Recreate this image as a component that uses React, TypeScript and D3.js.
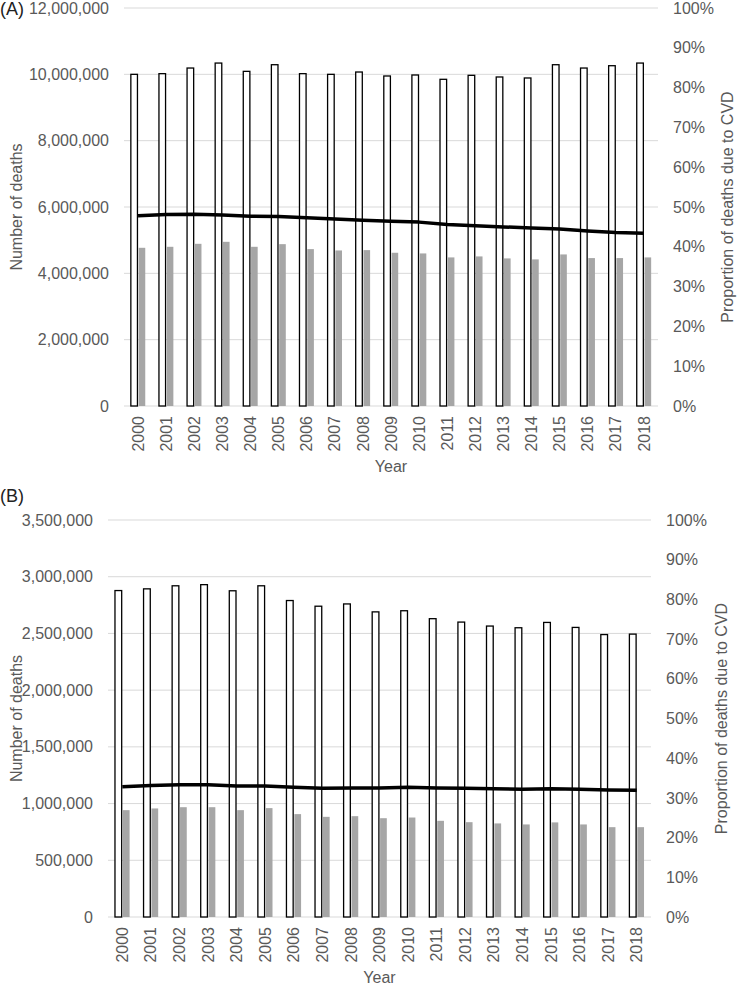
import React from 'react';
import * as d3 from 'd3';

// categories
const years = ['2000', '2001', '2002', '2003', '2004', '2005', '2006', '2007', '2008', '2009',
  '2010', '2011', '2012', '2013', '2014', '2015', '2016', '2017', '2018'];

// (A) all deaths, CVD deaths, share of CVD
const allDeathsA = [10000000, 10020000, 10190000, 10340000, 10090000, 10290000, 10020000, 10000000, 10070000, 9950000,
  9980000, 9850000, 9970000, 9920000, 9890000, 10290000, 10190000, 10260000, 10340000];
const cvdDeathsA = [4770000, 4800000, 4890000, 4950000, 4800000, 4880000, 4730000, 4690000, 4700000, 4620000,
  4600000, 4480000, 4510000, 4450000, 4420000, 4570000, 4460000, 4460000, 4480000];
const cvdShareA = [47.8, 48.1, 48.2, 48.0, 47.7, 47.6, 47.3, 47.0, 46.7, 46.4,
  46.2, 45.6, 45.3, 45.0, 44.7, 44.5, 44.0, 43.6, 43.4];

// (B)
const allDeathsB = [2878000, 2893000, 2920000, 2930000, 2876000, 2920000, 2790000, 2740000, 2760000, 2690000,
  2700000, 2630000, 2600000, 2565000, 2550000, 2597000, 2553000, 2490000, 2494000];
const cvdDeathsB = [942000, 957000, 968000, 968000, 942000, 960000, 907000, 883000, 889000, 871000,
  877000, 848000, 836000, 825000, 816000, 834000, 816000, 792000, 792000];
const cvdShareB = [32.8, 33.1, 33.3, 33.3, 33.0, 33.0, 32.7, 32.4, 32.5, 32.5,
  32.7, 32.5, 32.4, 32.3, 32.2, 32.3, 32.2, 32.0, 31.9];

// tick values
const leftTicksA = [0, 2000000, 4000000, 6000000, 8000000, 10000000, 12000000];
const leftTicksB = [0, 500000, 1000000, 1500000, 2000000, 2500000, 3000000, 3500000];
const pctTicks = [0, 10, 20, 30, 40, 50, 60, 70, 80, 90, 100];

const FONT = 'Liberation Sans, Arial, sans-serif';
const TEXT = '#595959';
const GRID = '#d9d9d9';
const fmt = d3.format(',');

type PanelProps = {
  tag: string;
  tagY: number;
  all: number[];
  cvd: number[];
  share: number[];
  leftTicks: number[];
  box: { left: number; right: number; top: number; bottom: number };
  rightTitleX: number;
};

function Panel({ tag, tagY, all, cvd, share, leftTicks, box, rightTitleX }: PanelProps) {
  const x = d3.scaleBand<string>().domain(years).range([box.left, box.right]);
  const y = d3.scaleLinear().domain([0, d3.max(leftTicks) as number]).range([box.bottom, box.top]);
  const yp = d3.scaleLinear().domain([0, 100]).range([box.bottom, box.top]);
  const bw = x.bandwidth() * 0.235;
  const cx = (d: string) => (x(d) as number) + x.bandwidth() / 2;
  const line = d3.line<number>()
    .x((_, i) => cx(years[i]))
    .y(d => yp(d));
  const midY = (box.top + box.bottom) / 2;
  const midX = (box.left + box.right) / 2;

  return (
    <g fontFamily={FONT} fill={TEXT}>
      <text x={0} y={tagY} fontSize={18} fill="#222">{tag}</text>
      {leftTicks.map(t => (
        <g key={'l' + t}>
          <line x1={box.left} x2={box.right} y1={y(t)} y2={y(t)} stroke={GRID} strokeWidth={1} />
          <text x={box.left - 15} y={y(t)} dy="0.35em" textAnchor="end" fontSize={16}>{fmt(t)}</text>
        </g>
      ))}
      {pctTicks.map(t => (
        <text key={'p' + t} x={box.right + 15} y={yp(t)} dy="0.35em" fontSize={16}>{t}%</text>
      ))}
      {years.map((d, i) => (
        <g key={d}>
          <rect x={cx(d) - bw - 0.6} y={y(all[i])} width={bw} height={y(0) - y(all[i])}
            fill="#fff" stroke="#000" strokeWidth={1.3} />
          <rect x={cx(d) + 0.6} y={y(cvd[i])} width={bw} height={y(0) - y(cvd[i])} fill="#a6a6a6" />
          <text transform={`translate(${cx(d)},${box.bottom + 10}) rotate(-90)`} textAnchor="end"
            dy="0.35em" fontSize={16}>{d}</text>
        </g>
      ))}
      <path d={line(share) as string} fill="none" stroke="#000" strokeWidth={3.5} strokeLinejoin="round" />
      <text x={midX} y={box.bottom + 66} textAnchor="middle" fontSize={16}>Year</text>
      <text transform={`translate(22,${midY}) rotate(-90)`} textAnchor="middle" fontSize={16}>Number of deaths</text>
      <text transform={`translate(${rightTitleX},${midY}) rotate(-90)`} textAnchor="middle" fontSize={16}>
        Proportion of deaths due to CVD
      </text>
    </g>
  );
}

export default function App() {
  return (
    <svg width={738} height={986} style={{ position: 'absolute', left: 0, top: 0, background: '#fff' }}>
      <rect width={738} height={986} fill="#fff" />
      <Panel tag="(A)" tagY={15} all={allDeathsA} cvd={cvdDeathsA} share={cvdShareA}
        leftTicks={leftTicksA} box={{ left: 124, right: 658, top: 8, bottom: 406 }} rightTitleX={733} />
      <Panel tag="(B)" tagY={502} all={allDeathsB} cvd={cvdDeathsB} share={cvdShareB}
        leftTicks={leftTicksB} box={{ left: 108, right: 651, top: 520, bottom: 917 }} rightTitleX={727} />
    </svg>
  );
}
